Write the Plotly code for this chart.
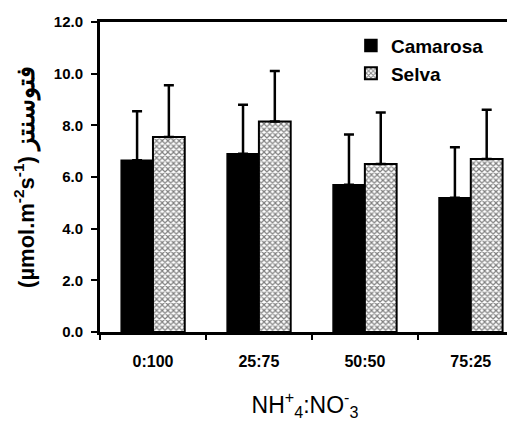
import plotly.graph_objects as go

categories = ["0:100", "25:75", "50:50", "75:25"]
camarosa = [6.65, 6.9, 5.7, 5.2]
camarosa_err = [1.9, 1.9, 1.95, 1.95]
selva = [7.55, 8.15, 6.5, 6.7]
selva_err = [2.0, 1.95, 2.0, 1.9]
y_ticks = [0, 2, 4, 6, 8, 10, 12]
y_tick_labels = ["0.0", "2.0", "4.0", "6.0", "8.0", "10.0", "12.0"]

FONT = "Liberation Sans, Arial, sans-serif"

fig = go.Figure()
fig.add_trace(go.Bar(
    name="Camarosa", x=categories, y=camarosa,
    marker=dict(color="black", line=dict(color="black", width=1.5)),
    error_y=dict(type="data", array=camarosa_err, arrayminus=[0]*4, symmetric=False,
                 color="black", thickness=2.5, width=5),
))
fig.add_trace(go.Bar(
    name="Selva", x=categories, y=selva,
    marker=dict(color="white", line=dict(color="black", width=2),
                pattern=dict(shape="x", fgcolor="black", bgcolor="white", size=4, solidity=0.5)),
    error_y=dict(type="data", array=selva_err, arrayminus=[0]*4, symmetric=False,
                 color="black", thickness=2.5, width=5),
))

fig.update_layout(
    width=507, height=413,
    margin=dict(l=92, r=5, t=13, b=88),
    paper_bgcolor="white", plot_bgcolor="white",
    barmode="group", bargap=0.4, bargroupgap=0,
    font=dict(family=FONT, color="black"),
    showlegend=True,
    legend=dict(x=0.612, y=0.985, xanchor="left", yanchor="top",
                font=dict(family=FONT, size=19, color="black", weight="bold"),
                bgcolor="rgba(0,0,0,0)", tracegroupgap=0, itemwidth=30),
)
fig.update_xaxes(
    type="category", range=[-0.5, 3.37],
    showline=True, linecolor="black", linewidth=2.5, mirror=True,
    ticks="outside", ticklen=5, tickwidth=2, tickcolor="black", tickson="boundaries",
    tickfont=dict(family=FONT, size=16, weight="bold"), ticklabelstandoff=13,
    showgrid=False, zeroline=False,
    title=dict(text="NH<sup>+</sup><sub>4</sub>:NO<sup>-</sup><sub>3</sub>",
               font=dict(family=FONT, size=23), standoff=30),
)
fig.update_yaxes(
    range=[0, 12], tickvals=y_ticks, ticktext=y_tick_labels,
    showline=True, linecolor="black", linewidth=3,
    ticks="outside", ticklen=6, tickwidth=2, tickcolor="black",
    tickfont=dict(family=FONT, size=15, weight="bold"), ticklabelstandoff=5,
    showgrid=False, zeroline=False,
    title=dict(text="(µmol.m<sup>-2</sup>s<sup>-1</sup>) <span style='font-size:25px'>فتوسنتز</span>",
               font=dict(family=FONT, size=22, weight="bold"), standoff=14),
)

fig.write_html("out.html")
